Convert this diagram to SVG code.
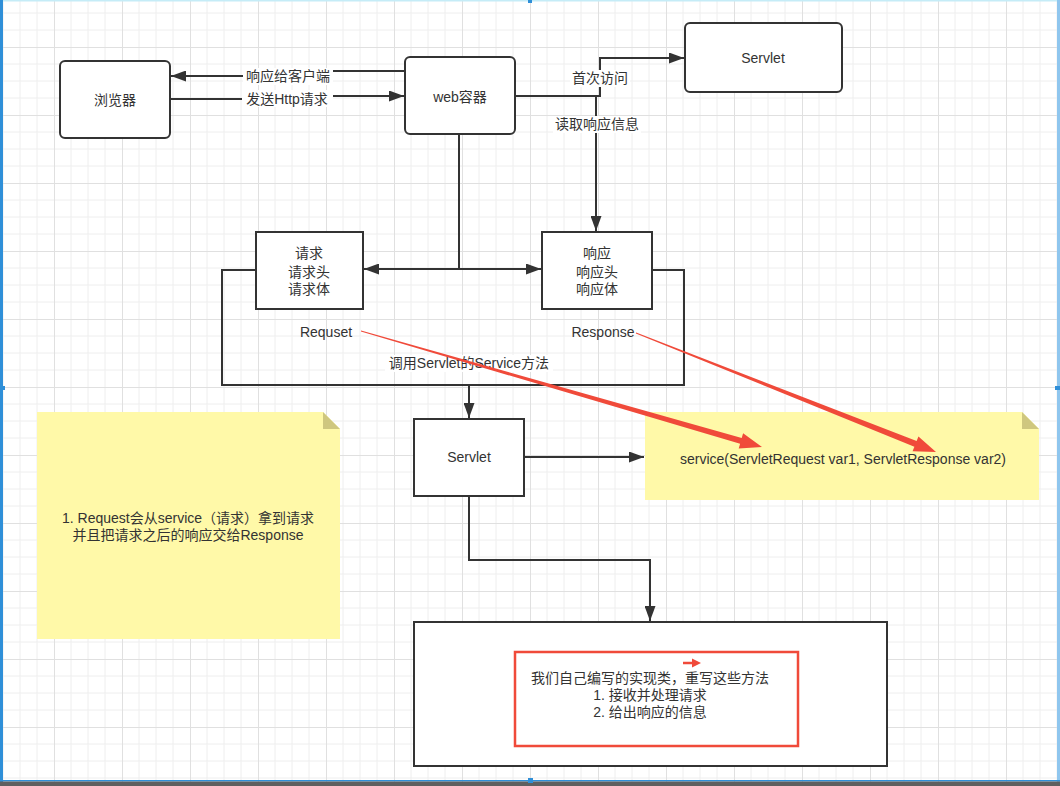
<svg xmlns="http://www.w3.org/2000/svg" width="1060" height="786" viewBox="0 0 1060 786">
<style>
  .box{fill:#ffffff;stroke:#333333;stroke-width:2}
  .edge{fill:none;stroke:#333333;stroke-width:2}
  .t{font-family:"Liberation Sans","Noto Sans CJK SC",sans-serif;font-size:14px;fill:#333333;text-anchor:middle}
  .lbg{fill:#ffffff}
  .note{fill:#fff9a8}
  .fold{fill:#cfc77f}
  .red{fill:#f04a3a}
</style>
<defs>
  <pattern id="grid" x="54" y="47" width="68" height="68" patternUnits="userSpaceOnUse">
    <path d="M17,0 V68 M34,0 V68 M51,0 V68 M0,17 H68 M0,34 H68 M0,51 H68" stroke="#eeeeee" stroke-width="1" fill="none"/>
    <path d="M0.5,0 V68 M0,0.5 H68" stroke="#e0e0e0" stroke-width="1" fill="none"/>
  </pattern>
  <marker id="ah" markerWidth="15" markerHeight="11" refX="15" refY="5.5" orient="auto" markerUnits="userSpaceOnUse">
    <path d="M0,0 L15,5.5 L0,11 Z" fill="#333333"/>
  </marker>
</defs>

<rect x="0" y="0" width="1060" height="786" fill="#ffffff"/>
<rect x="0" y="0" width="1060" height="786" fill="url(#grid)"/>

<g id="connectors">
  <path class="edge" d="M405,71 H288 V76 H171" marker-end="url(#ah)"/>
  <path class="edge" d="M170,99 H288 V96 H404" marker-end="url(#ah)"/>
  <path class="edge" d="M515,96 H600 V58 H684" marker-end="url(#ah)"/>
  <path class="edge" d="M596,96 V231" marker-end="url(#ah)"/>
  <path class="edge" d="M459,134 V269"/>
  <path class="edge" d="M459,269 H364" marker-end="url(#ah)"/>
  <path class="edge" d="M459,269 H541" marker-end="url(#ah)"/>
  <path class="edge" d="M256,270 H222 V385 H684 V270 H652"/>
  <path class="edge" d="M469,385 V418" marker-end="url(#ah)"/>
  <path class="edge" d="M524,457 H644" marker-end="url(#ah)"/>
  <path class="edge" d="M469,496 V560 H650 V621" marker-end="url(#ah)"/>

  <rect class="lbg" x="243" y="68" width="90" height="17"/>
  <text class="t" x="288" y="81">响应给客户端</text>
  <rect class="lbg" x="242" y="90" width="91" height="17"/>
  <text class="t" x="287" y="104">发送Http请求</text>
  <rect class="lbg" x="570" y="70" width="60" height="17"/>
  <text class="t" x="600" y="83">首次访问</text>
  <rect class="lbg" x="553" y="116" width="88" height="17"/>
  <text class="t" x="597" y="129">读取响应信息</text>
  <rect class="lbg" x="385" y="355" width="168" height="17"/>
  <text class="t" x="469" y="368">调用Servlet的Service方法</text>
</g>

<g id="browser">
  <rect class="box" x="60" y="61" width="110" height="77" rx="5"/>
  <text class="t" x="115" y="105">浏览器</text>
</g>

<g id="web">
  <rect class="box" x="405" y="57" width="110" height="77" rx="5"/>
  <text class="t" x="460" y="102">web容器</text>
</g>

<g id="servlet-top">
  <rect class="box" x="685" y="23" width="157" height="69" rx="5"/>
  <text class="t" x="763" y="63">Servlet</text>
</g>

<g id="request">
  <rect class="box" x="256" y="232" width="107" height="77"/>
  <text class="t" x="309" y="258">请求</text>
  <text class="t" x="309" y="277">请求头</text>
  <text class="t" x="309" y="294">请求体</text>
  <text class="t" x="326" y="337">Requset</text>
</g>

<g id="response">
  <rect class="box" x="542" y="232" width="110" height="77"/>
  <text class="t" x="597" y="258">响应</text>
  <text class="t" x="597" y="277">响应头</text>
  <text class="t" x="597" y="294">响应体</text>
  <text class="t" x="603" y="337">Response</text>
</g>

<g id="servlet">
  <rect class="box" x="414" y="419" width="110" height="77"/>
  <text class="t" x="469" y="462">Servlet</text>
</g>

<g id="note-service">
  <path class="note" d="M645,412 H1022 L1039,429 V500 H645 Z"/>
  <path class="fold" d="M1022,412 L1039,429 H1022 Z"/>
  <text class="t" x="843" y="464">service(ServletRequest var1, ServletResponse var2)</text>
</g>

<g id="note-left">
  <path class="note" d="M37,412 H323 L340,429 V639 H37 Z"/>
  <path class="fold" d="M323,412 L340,429 H323 Z"/>
  <text class="t" x="188" y="523">1. Request会从service（请求）拿到请求</text>
  <text class="t" x="188" y="540">并且把请求之后的响应交给Response</text>
</g>

<g id="impl">
  <rect class="box" x="414" y="622" width="473" height="144"/>
  <rect x="515" y="652" width="283" height="94" fill="none" stroke="#f04a3a" stroke-width="2.5"/>
  <path d="M683,663 H693" stroke="#f04a3a" stroke-width="2.5"/>
  <path class="red" d="M692,658.5 L701,663 L692,667.5 Z"/>
  <text class="t" x="650" y="683">我们自己编写的实现类，重写这些方法</text>
  <text class="t" x="650" y="700">1. 接收并处理请求</text>
  <text class="t" x="650" y="717">2. 给出响应的信息</text>
</g>

<g id="red-arrows">
  <path class="red" d="M361.1,330.5 L741.7,438.0 L743.1,433.2 L762,447 L738.7,448.6 L740.1,443.8 L360.9,331.5 Z"/>
  <path class="red" d="M636.18,332.54 L916.61,441.11 L918.45,436.46 L936,452 L912.55,451.34 L914.39,446.69 L635.82,333.46 Z"/>
</g>

<g id="frame-edges">
  <rect x="0" y="0" width="1060" height="1.5" fill="#c5ecf7"/>
  <rect x="0" y="0" width="3" height="786" fill="#2f8fd8"/>
  <rect x="1057" y="0" width="3" height="786" fill="#8fc6ee"/>
  <rect x="0" y="780" width="1060" height="1.5" fill="#2f8fd8"/>
  <rect x="0" y="781.5" width="1060" height="4.5" fill="#5f5f5f"/>
  <rect x="528" y="0" width="4" height="3" fill="#2f8fd8"/>
  <rect x="0" y="386" width="5" height="4" fill="#2f8fd8"/>
  <rect x="1055" y="386" width="5" height="4" fill="#2f8fd8"/>
  <rect x="528" y="778" width="5" height="5" fill="#2f8fd8"/>
</g>
</svg>
